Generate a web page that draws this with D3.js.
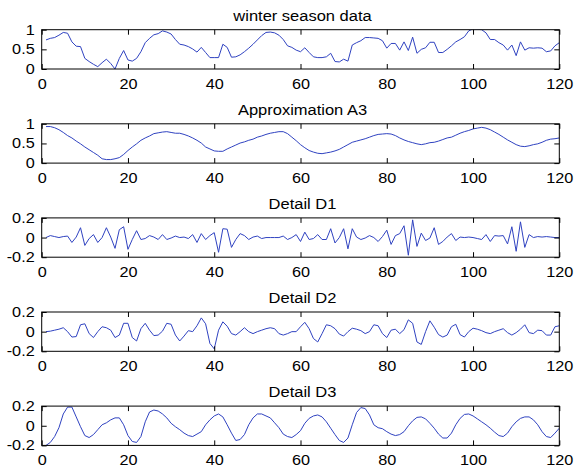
<!DOCTYPE html>
<html>
<head>
<meta charset="utf-8">
<script src="https://cdn.jsdelivr.net/npm/d3@7"></script>
<style>
html,body{margin:0;padding:0;background:#fff;}
svg{display:block;}
</style>
</head>
<body>
<svg id="chart" width="579" height="471"></svg>
<script>
const titles = ["winter season data", "Approximation A3", "Detail D1", "Detail D2", "Detail D3"];
const xTicks = [0, 20, 40, 60, 80, 100, 120];
const yTicksTop = [0, 0.5, 1];
const yTicksDetail = [-0.2, 0, 0.2];

const winterData = [0.74,0.78,0.80,0.86,0.93,0.91,0.69,0.58,0.57,0.27,
0.19,0.12,0.06,0.16,0.25,0.14,0.00,0.27,0.47,0.23,
0.20,0.27,0.44,0.67,0.78,0.87,0.90,0.97,0.94,0.89,
0.75,0.63,0.61,0.57,0.51,0.43,0.55,0.42,0.29,0.29,
0.29,0.63,0.55,0.30,0.31,0.36,0.44,0.53,0.63,0.74,
0.85,0.93,0.94,0.92,0.86,0.75,0.59,0.55,0.48,0.44,
0.54,0.42,0.31,0.29,0.29,0.31,0.40,0.19,0.18,0.25,
0.20,0.61,0.67,0.72,0.80,0.80,0.79,0.78,0.72,0.53,
0.65,0.65,0.48,0.69,0.47,0.81,0.40,0.50,0.54,0.68,
0.68,0.42,0.42,0.50,0.59,0.69,0.75,0.82,0.97,1.02,
1.01,1.00,0.92,0.75,0.75,0.67,0.61,0.48,0.61,0.34,
0.69,0.48,0.54,0.53,0.54,0.53,0.44,0.46,0.59,0.67];

const approxA3 = [0.93,0.93,0.90,0.85,0.78,0.70,0.64,0.56,0.49,0.41,
0.34,0.27,0.20,0.11,0.09,0.09,0.11,0.14,0.22,0.32,
0.41,0.49,0.58,0.64,0.69,0.75,0.77,0.79,0.80,0.78,
0.76,0.76,0.73,0.69,0.64,0.58,0.51,0.41,0.36,0.31,
0.30,0.30,0.36,0.41,0.46,0.51,0.54,0.58,0.61,0.66,
0.69,0.73,0.76,0.78,0.80,0.80,0.75,0.66,0.57,0.47,
0.39,0.32,0.28,0.25,0.24,0.26,0.28,0.31,0.35,0.41,
0.47,0.53,0.56,0.59,0.62,0.66,0.70,0.73,0.74,0.75,
0.74,0.70,0.64,0.59,0.55,0.52,0.49,0.47,0.49,0.52,
0.53,0.56,0.60,0.64,0.66,0.71,0.76,0.80,0.83,0.87,
0.89,0.91,0.89,0.85,0.79,0.73,0.66,0.59,0.53,0.47,
0.43,0.42,0.44,0.47,0.49,0.53,0.58,0.61,0.62,0.64];

const detailD1 = [0.00,0.02,0.01,0.00,0.01,0.015,-0.05,0.005,0.10,-0.08,
-0.01,0.03,-0.05,0.00,0.10,0.005,-0.11,0.08,0.11,-0.12,
-0.02,0.07,-0.02,-0.01,0.02,0.005,-0.02,0.03,-0.02,-0.005,
0.015,0.00,0.005,-0.01,0.03,-0.05,0.04,-0.02,0.02,0.05,
-0.15,0.09,0.085,-0.10,-0.02,0.04,0.02,-0.02,0.005,0.015,
-0.01,0.00,0.00,0.00,0.00,0.015,-0.02,0.00,0.03,-0.04,
0.055,-0.02,-0.01,0.03,-0.02,-0.02,0.09,-0.055,0.00,0.09,
-0.115,0.09,0.005,-0.02,-0.005,0.02,0.00,-0.04,0.01,0.075,
-0.07,0.02,0.04,0.12,-0.18,0.18,-0.09,0.045,-0.03,-0.005,
0.10,-0.07,-0.04,0.005,0.04,-0.03,0.005,0.00,0.005,0.00,
-0.01,-0.02,0.03,-0.04,0.02,0.015,0.02,-0.065,0.11,-0.14,
0.16,-0.10,0.03,0.00,0.01,0.005,0.01,0.005,0.00,0.00];

const detailD2 = [0.00,0.005,0.015,0.025,0.04,0.00,-0.055,-0.05,0.07,0.08,
-0.02,-0.06,0.00,0.05,0.04,0.015,-0.06,-0.035,0.085,0.085,
-0.06,-0.095,0.03,0.085,0.015,-0.04,-0.035,0.005,0.085,0.075,
-0.035,-0.095,-0.045,0.01,0.00,0.06,0.14,0.08,-0.12,-0.175,
0.015,0.10,0.055,-0.02,-0.035,0.00,0.04,0.00,-0.02,0.00,
0.015,0.03,0.04,0.03,-0.02,-0.035,-0.02,0.00,0.00,0.05,
0.095,0.03,-0.07,-0.105,-0.02,0.07,0.06,0.03,-0.025,-0.045,
0.00,0.035,0.025,0.01,-0.02,0.00,0.07,0.06,-0.02,-0.06,
0.015,0.025,-0.02,0.02,0.12,0.085,-0.105,-0.13,0.00,0.11,
0.045,-0.03,-0.055,-0.035,0.05,0.075,-0.03,-0.055,0.00,0.035,
0.025,0.01,-0.01,-0.02,0.00,0.015,0.03,-0.01,-0.035,-0.01,
0.025,0.07,-0.01,-0.02,0.015,0.01,-0.035,-0.035,0.05,0.06];

const detailD3 = [-0.20,-0.17,-0.11,-0.02,0.12,0.19,0.19,0.09,-0.01,-0.10,
-0.12,-0.09,-0.04,0.01,0.03,0.06,0.08,0.08,0.01,-0.10,
-0.16,-0.17,-0.11,0.04,0.14,0.16,0.15,0.12,0.08,0.025,
-0.01,-0.04,-0.075,-0.10,-0.11,-0.085,-0.06,0.01,0.06,0.10,
0.12,0.09,0.01,-0.075,-0.15,-0.14,-0.09,0.01,0.08,0.12,
0.12,0.10,0.08,0.03,-0.02,-0.085,-0.11,-0.12,-0.09,-0.05,
0.025,0.075,0.10,0.11,0.09,0.04,-0.025,-0.09,-0.15,-0.17,
-0.125,0.01,0.135,0.185,0.175,0.11,0.01,-0.02,-0.03,-0.06,
-0.085,-0.10,-0.09,-0.06,0.00,0.05,0.085,0.09,0.07,0.025,
-0.025,-0.085,-0.125,-0.125,-0.075,0.01,0.075,0.115,0.12,0.10,
0.07,0.04,0.01,-0.025,-0.065,-0.10,-0.11,-0.075,-0.01,0.04,
0.075,0.09,0.09,0.06,0.01,-0.06,-0.11,-0.12,-0.075,-0.025];

const seriesList = [winterData, approxA3, detailD1, detailD2, detailD3];
const yTickList = [yTicksTop, yTicksTop, yTicksDetail, yTicksDetail, yTicksDetail];
const yDomains = [[0, 1], [0, 1], [-0.2, 0.2], [-0.2, 0.2], [-0.2, 0.2]];

const svg = d3.select("#chart");
const plotLeft = 41.7, plotRight = 559.3;
const firstTop = 29.7, panelStep = 94.1, panelH = 39.3;
const lineColor = "#2f42c0";
const fontFam = "'Liberation Sans', Arial, Helvetica, sans-serif";
const stretch = 1.16;

const x = d3.scaleLinear().domain([0, 120]).range([plotLeft, plotRight]);

function stretchText(sel, sx) {
  sel.each(function () {
    const t = d3.select(this);
    const tx = +t.attr("x") || 0, ty = +t.attr("y") || 0;
    t.attr("x", 0).attr("y", 0).attr("transform", `translate(${tx},${ty}) scale(${sx},1)`);
  });
}

seriesList.forEach((data, i) => {
  const top = firstTop + i * panelStep;
  const bottom = top + panelH;
  const y = d3.scaleLinear().domain(yDomains[i]).range([bottom, top]);
  const g = svg.append("g");

  const clipId = "clip" + i;
  svg.append("clipPath").attr("id", clipId).append("rect")
    .attr("x", plotLeft).attr("y", top).attr("width", plotRight - plotLeft).attr("height", panelH);

  const line = d3.line().x((d, j) => x(j + 1)).y(d => y(d));
  g.append("path").datum(data)
    .attr("clip-path", `url(#${clipId})`)
    .attr("fill", "none").attr("stroke", lineColor).attr("stroke-width", 1)
    .attr("stroke-linejoin", "round")
    .attr("d", line);

  const fmt = d => String(d);
  const axB = g.append("g").attr("transform", `translate(0,${bottom})`)
    .call(d3.axisBottom(x).tickValues(xTicks).tickFormat(fmt).tickSizeInner(-5).tickSizeOuter(0).tickPadding(10));
  const axT = g.append("g").attr("transform", `translate(0,${top})`)
    .call(d3.axisTop(x).tickValues(xTicks).tickFormat("").tickSizeInner(-5).tickSizeOuter(0));
  const axL = g.append("g").attr("transform", `translate(${plotLeft},0)`)
    .call(d3.axisLeft(y).tickValues(yTickList[i]).tickFormat(fmt).tickSizeInner(-5).tickSizeOuter(0).tickPadding(7));
  const axR = g.append("g").attr("transform", `translate(${plotRight},0)`)
    .call(d3.axisRight(y).tickValues(yTickList[i]).tickFormat("").tickSizeInner(-5).tickSizeOuter(0));

  [axB, axT, axL, axR].forEach(a => {
    a.select(".domain").remove();
    a.selectAll("line").attr("stroke", "#000").attr("stroke-width", 1);
    a.selectAll("text").attr("fill", "#000").style("font-family", fontFam).style("font-size", "14px");
  });
  stretchText(axB.selectAll("text"), stretch);
  stretchText(axL.selectAll("text"), stretch);

  g.append("rect").attr("x", plotLeft).attr("y", top)
    .attr("width", plotRight - plotLeft).attr("height", panelH)
    .attr("fill", "none").attr("stroke", "#000").attr("stroke-width", 1);

  const tt = g.append("text")
    .attr("x", (plotLeft + plotRight) / 2 + 2).attr("y", top - 9)
    .attr("text-anchor", "middle")
    .style("font-family", fontFam).style("font-size", "15px").attr("fill", "#000")
    .text(titles[i]);
  stretchText(tt, 1.1);
});
</script>
</body>
</html>
